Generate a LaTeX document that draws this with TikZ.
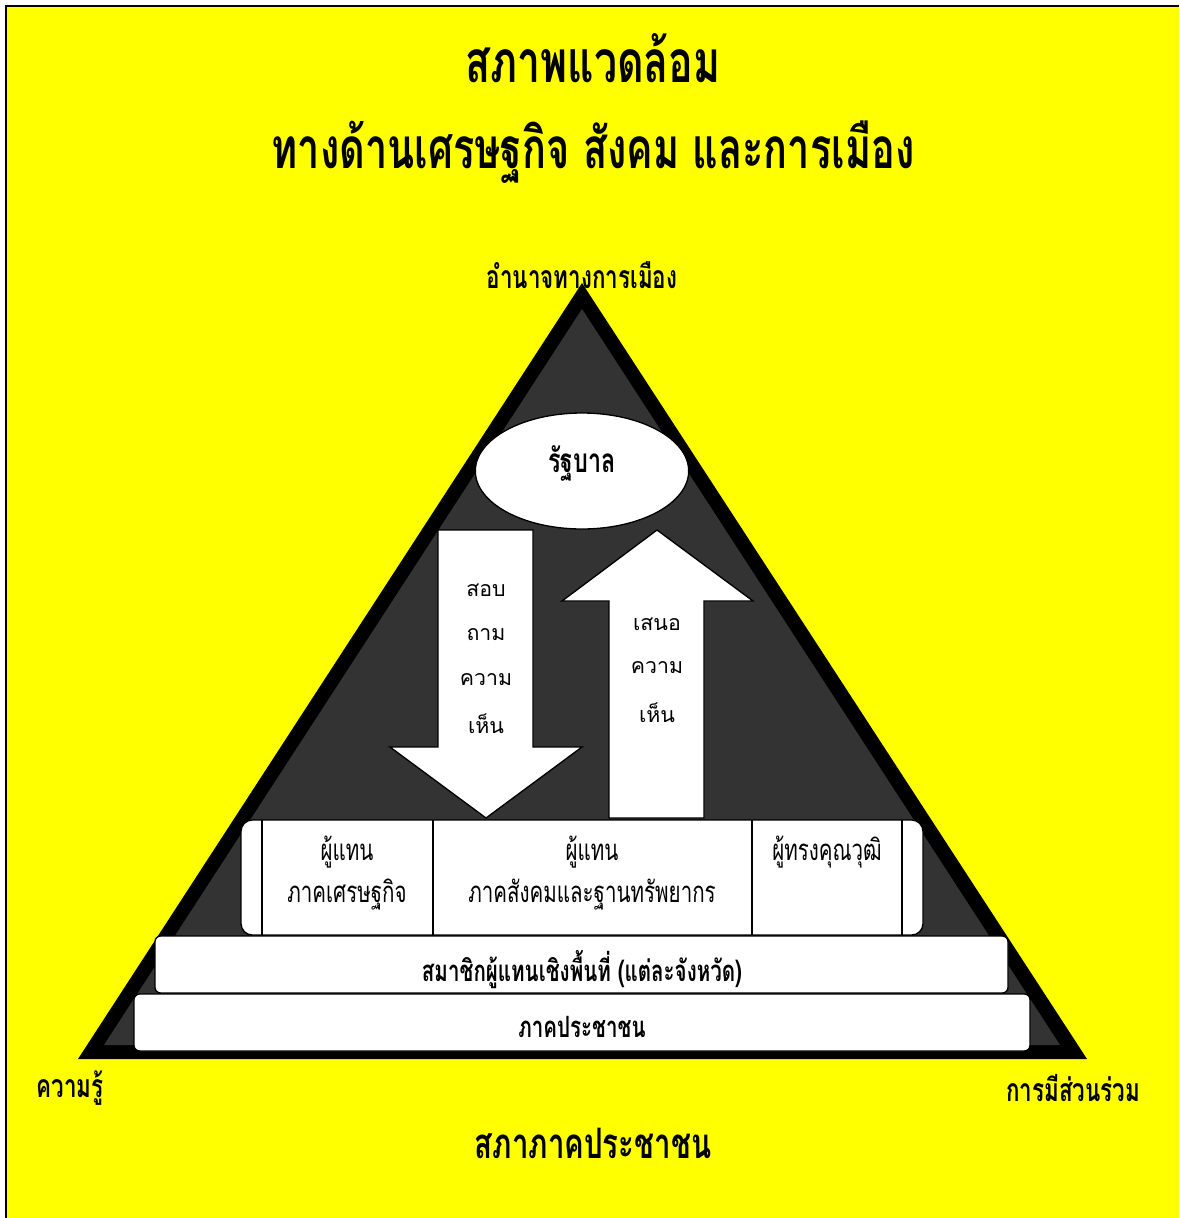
\documentclass[tikz,border=0pt]{standalone}
\usepackage{fontspec}
\newfontfamily\thaiplain[Script=Thai]{Loma}
\newfontfamily\thainarrow[Script=Thai,FakeStretch=0.7]{Loma}
\usetikzlibrary{shapes.geometric}
\definecolor{bgyellow}{RGB}{255,255,0}
\definecolor{darkfill}{RGB}{51,51,51}

\begin{document}
\begin{tikzpicture}[x=0.75pt,y=-0.75pt,
    titletext/.style={font=\thainarrow\bfseries\fontsize{44}{48}\selectfont},
    cornertext/.style={font=\thainarrow\bfseries\fontsize{24}{28}\selectfont},
    bartext/.style={font=\thainarrow\bfseries\fontsize{22}{26}\selectfont},
    celltext/.style={font=\thainarrow\fontsize{22}{26}\selectfont},
    arrowtext/.style={font=\thaiplain\fontsize{16}{20}\selectfont},
    whitebox/.style={draw=black,fill=white,line width=1pt}]
        \useasboundingbox (0,0) rectangle (1179,1218);
        \fill[white] (0,0) rectangle (1179,1218);
        \fill[bgyellow] (6,6) rectangle (1179,1218);
        \draw[line width=1.5pt] (6,1218) -- (6,6) -- (1179,6);
        % titles
        \node[titletext] (title1) at (593,58) {สภาพแวดล้อม};
        \node[titletext,font=\thainarrow\bfseries\fontsize{42.5}{46}\selectfont] (title2) at (593,152) {ทางด้านเศรษฐกิจ สังคม และการเมือง};
        % pyramid
        \fill[black] (582,283) -- (1087,1059) -- (78,1059) -- cycle;
        \fill[darkfill] (582,309) -- (1060,1045) -- (104,1045) -- cycle;
        \node[cornertext] (power) at (582,275) {อำนาจทางการเมือง};
        \node[cornertext] (knowledge) at (70,1088) {ความรู้};
        \node[cornertext] (participation) at (1073,1088) {การมีส่วนร่วม};
        % government
        \node[whitebox,ellipse,minimum width=160pt,minimum height=87pt,inner sep=0pt,outer sep=0pt] (gov) at (582,471) {};
        \node[font=\thainarrow\bfseries\fontsize{25}{28}\selectfont] (govtext) at (582,463) {รัฐบาล};
        % arrows
        \filldraw[whitebox] (438,530) -- (533,530) -- (533,747) -- (582,747) -- (486,818) -- (390,747) -- (438,747) -- cycle;
        \filldraw[whitebox] (657,530) -- (753,601) -- (704,601) -- (704,818) -- (609,818) -- (609,601) -- (562,601) -- cycle;
        \node[arrowtext] (ask1) at (486,590) {สอบ};
        \node[arrowtext] (ask2) at (486,635) {ถาม};
        \node[arrowtext] (ask3) at (486,680) {ความ};
        \node[arrowtext] (ask4) at (486,724) {เห็น};
        \node[arrowtext] (offer1) at (657,624) {เสนอ};
        \node[arrowtext] (offer2) at (657,668) {ความ};
        \node[arrowtext] (offer3) at (657,713) {เห็น};
        % representatives
        \filldraw[whitebox,rounded corners=3mm] (241,820) rectangle (923,935);
        \draw[line width=1pt] (262,820) -- (262,935);
        \draw[line width=1pt] (433,820) -- (433,935);
        \draw[line width=1pt] (752,820) -- (752,935);
        \draw[line width=1pt] (902,820) -- (902,935);
        \node[celltext] (econ1) at (347,852) {ผู้แทน};
        \node[celltext] (econ2) at (347,895) {ภาคเศรษฐกิจ};
        \node[celltext] (soc1) at (592,852) {ผู้แทน};
        \node[celltext] (soc2) at (592,895) {ภาคสังคมและฐานทรัพยากร};
        \node[celltext] (expert) at (827,852) {ผู้ทรงคุณวุฒิ};
        % bars
        \filldraw[whitebox,rounded corners=1.5mm] (155,936) rectangle (1008,993);
        \node[bartext] (area) at (582,970) {สมาชิกผู้แทนเชิงพื้นที่ (แต่ละจังหวัด)};
        \filldraw[whitebox,rounded corners=1.5mm] (134,994) rectangle (1030,1051);
        \node[bartext] (people) at (582,1027) {ภาคประชาชน};
        \node[titletext,font=\thainarrow\bfseries\fontsize{31.5}{35}\selectfont] (assembly) at (593,1143) {สภาภาคประชาชน};
      \end{tikzpicture}
\end{document}
